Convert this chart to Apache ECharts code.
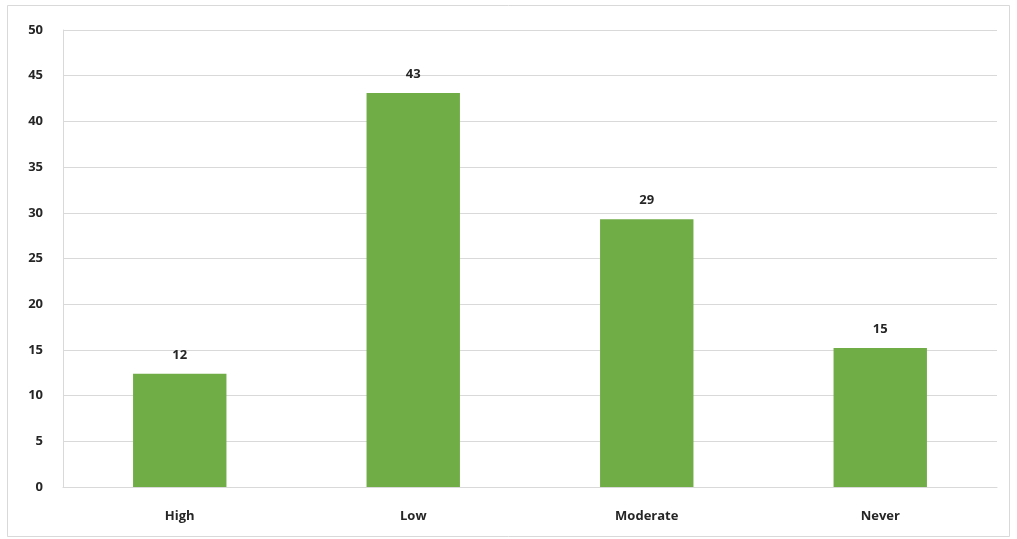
<!DOCTYPE html>
<html>
<head>
<meta charset="utf-8">
<script src="https://cdn.jsdelivr.net/npm/echarts@6/dist/echarts.min.js"></script>
<style>
html,body{margin:0;padding:0;background:#fff;}
#chart{width:1017px;height:539px;}
</style>
</head>
<body>
<div id="chart"></div>
<script>
const categories = ["High", "Low", "Moderate", "Never"];
const values = [12.4, 43.1, 29.3, 15.2];
const yTicks = [0, 5, 10, 15, 20, 25, 30, 35, 40, 45, 50];

const chart = echarts.init(document.getElementById('chart'), null, {renderer: 'canvas'});
const font = '"Open Sans", "Liberation Sans", sans-serif';
chart.setOption({
  animation: false,
  backgroundColor: '#fff',
  graphic: [{
    type: 'rect',
    shape: {x: 7.5, y: 5.5, width: 1002, height: 531},
    style: {fill: 'none', stroke: '#d9d9d9', lineWidth: 1},
    silent: true
  }],
  grid: {left: 63, right: 20, top: 30, bottom: 52, containLabel: false},
  xAxis: {
    type: 'category',
    data: categories,
    axisLine: {show: true, lineStyle: {color: '#d9d9d9', width: 1}},
    axisTick: {show: false},
    axisLabel: {color: '#262626', fontFamily: font, fontWeight: 'bold', fontSize: 13, margin: 23}
  },
  yAxis: {
    type: 'value',
    min: yTicks[0],
    max: yTicks[yTicks.length - 1],
    interval: 5,
    axisLine: {show: true, lineStyle: {color: '#d9d9d9', width: 1}},
    axisTick: {show: false},
    splitLine: {show: true, lineStyle: {color: '#d9d9d9', width: 1}},
    axisLabel: {color: '#262626', fontFamily: font, fontWeight: 'bold', fontSize: 13, margin: 20}
  },
  series: [{
    type: 'bar',
    data: values,
    barWidth: '40%',
    itemStyle: {color: '#70ad47'},
    label: {
      show: true,
      position: 'top',
      distance: 12,
      color: '#262626',
      fontFamily: font,
      fontWeight: 'bold',
      fontSize: 13,
      formatter: p => Math.round(p.value)
    }
  }]
});
</script>
</body>
</html>
